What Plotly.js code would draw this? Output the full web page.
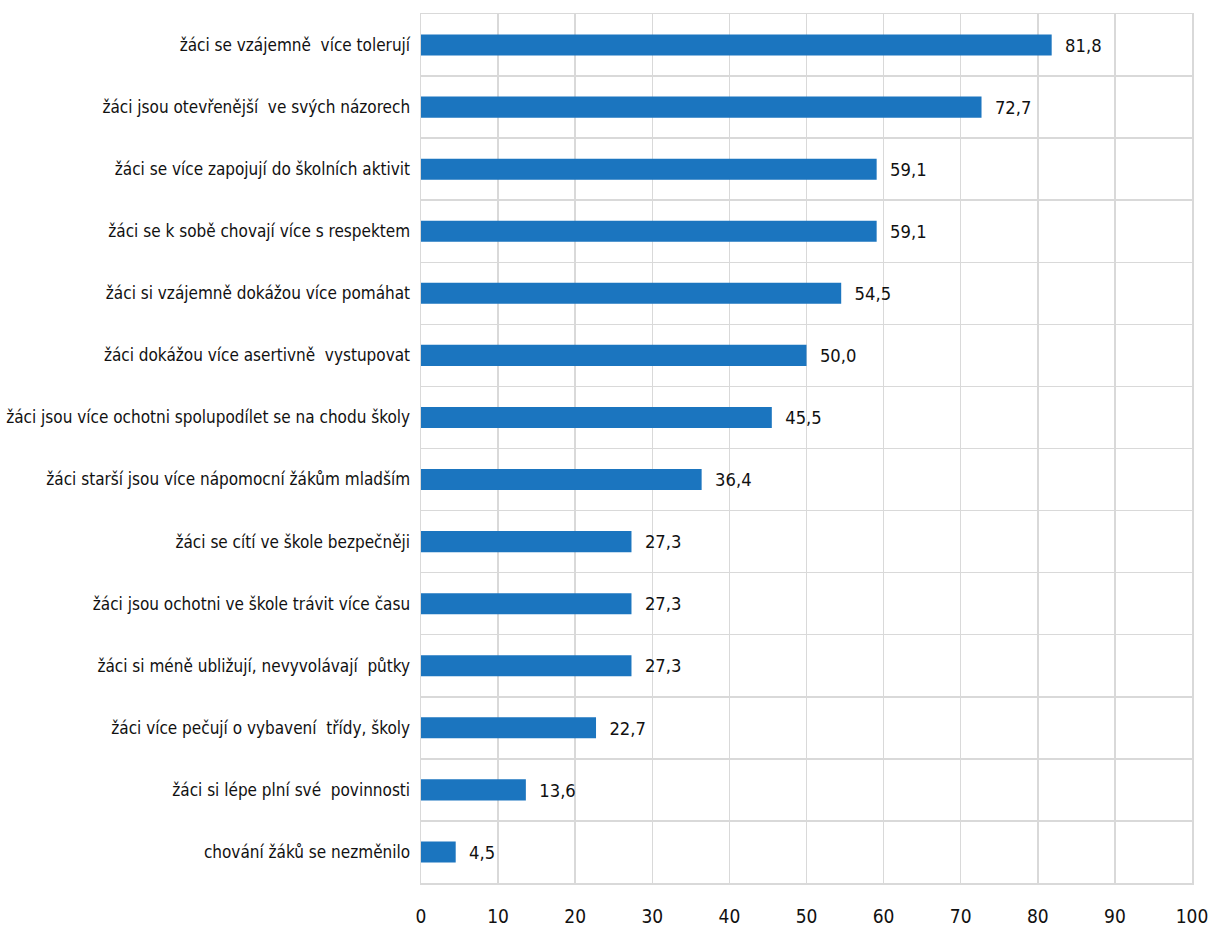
<!DOCTYPE html>
<html><head><meta charset="utf-8">
<script src="https://cdn.plot.ly/plotly-3.0.1.min.js"></script>
<style>html,body{margin:0;padding:0;background:#fff}#c{width:1209px;height:927px}
svg text{font-stretch:condensed !important;}</style>
</head><body><div id="c"></div>
<script>
const categories = [
  "žáci se vzájemně  více tolerují",
  "žáci jsou otevřenější  ve svých názorech",
  "žáci se více zapojují do školních aktivit",
  "žáci se k sobě chovají více s respektem",
  "žáci si vzájemně dokážou více pomáhat",
  "žáci dokážou více asertivně  vystupovat",
  "žáci jsou více ochotni spolupodílet se na chodu školy",
  "žáci starší jsou více nápomocní žákům mladším",
  "žáci se cítí ve škole bezpečněji",
  "žáci jsou ochotni ve škole trávit více času",
  "žáci si méně ubližují, nevyvolávají  půtky",
  "žáci více pečují o vybavení  třídy, školy",
  "žáci si lépe plní své  povinnosti",
  "chování žáků se nezměnilo"
];
const values = [81.8, 72.7, 59.1, 59.1, 54.5, 50.0, 45.5, 36.4, 27.3, 27.3, 27.3, 22.7, 13.6, 4.5];
const xTicks = [0,10,20,30,40,50,60,70,80,90,100];

const idx = categories.map((c,i)=>i);
const FONT = '"DejaVu Sans Condensed","DejaVu Sans",sans-serif';
const grid = '#d9d9d9';

Plotly.newPlot('c', [{
  type:'bar', orientation:'h',
  x: values, y: idx,
  marker:{color:'#1b75bf'},
  width: 0.34,
  text: values.map(v=>v.toFixed(1).replace('.',',')),
  texttemplate:'  %{text}',
  textposition:'outside',
  textfont:{family:FONT, size:19, color:'#111'},
  cliponaxis:false,
  hoverinfo:'skip'
}], {
  width:1209, height:927,
  margin:{l:421, r:17, t:14, b:44},
  paper_bgcolor:'#fff', plot_bgcolor:'#fff',
  showlegend:false,
  font:{family:FONT, color:'#111', size:17},
  xaxis:{
    range:[0,100], tickvals:xTicks, ticktext:xTicks.map(String),
    showgrid:true, gridcolor:grid, gridwidth:1.5,
    zeroline:false, showline:true, mirror:true, linecolor:grid, linewidth:1.5,
    ticks:'', ticklabelstandoff:16,
    tickfont:{family:FONT, size:19, color:'#111'}
  },
  yaxis:{
    range:[13.5,-0.5], tickvals:idx, ticktext:categories,
    showgrid:false, zeroline:false,
    showline:true, mirror:true, linecolor:grid, linewidth:1.5,
    ticks:'', ticklabelstandoff:6,
    tickfont:{family:FONT, size:17, color:'#111'},
    minor:{tick0:0.5, dtick:1, showgrid:true, gridcolor:grid, gridwidth:1.5, ticks:''}
  }
}, {staticPlot:true});
</script></body></html>
